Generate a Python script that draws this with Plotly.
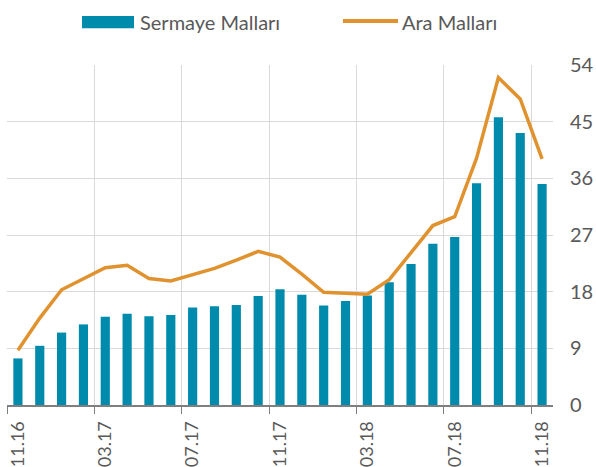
import plotly.graph_objects as go

months = ["11.16","12.16","01.17","02.17","03.17","04.17","05.17","06.17","07.17","08.17",
          "09.17","10.17","11.17","12.17","01.18","02.18","03.18","04.18","05.18","06.18",
          "07.18","08.18","09.18","10.18","11.18"]
sermaye = [7.4, 9.4, 11.5, 12.8, 14.0, 14.5, 14.1, 14.3, 15.5, 15.7, 15.9, 17.3, 18.4,
           17.5, 15.8, 16.5, 17.4, 19.5, 22.4, 25.6, 26.7, 35.2, 45.7, 43.2, 35.1]
ara = [8.7, 13.8, 18.3, 20.1, 21.8, 22.2, 20.1, 19.7, 20.7, 21.7, 23.0, 24.4, 23.5,
       20.8, 17.9, 17.7, 17.6, 19.9, 24.1, 28.5, 29.9, 39.2, 52.0, 48.6, 39.1]
label_months = ["11.16", "03.17", "07.17", "11.17", "03.18", "07.18", "11.18"]
y_ticks = [0, 9, 18, 27, 36, 45, 54]
series_names = ["Sermaye Malları", "Ara Malları"]

idx = list(range(len(months)))
label_pos = [months.index(m) for m in label_months]
boundary_pos = [p - 0.5 for p in label_pos]

BAR = "#008BAD"
LINE = "#E0922F"
GREY = "#595959"
FONT = "Lato"

fig = go.Figure()
fig.add_trace(go.Bar(x=idx, y=sermaye, name=series_names[0], marker_color=BAR,
                     marker_line_width=0, width=0.42, showlegend=False))
fig.add_trace(go.Scatter(x=idx, y=ara, name=series_names[1], mode="lines",
                         line=dict(color=LINE, width=3.5), showlegend=False))
fig.add_trace(go.Scatter(x=[label_pos[0]], y=[0], xaxis="x2", mode="markers",
                         marker=dict(opacity=0), showlegend=False, hoverinfo="skip"))

# manual legend (wide swatches as in the reference)
fig.add_shape(type="rect", xref="paper", yref="paper", x0=0.1374, x1=0.2326,
              y0=1.1079, y1=1.1441, fillcolor=BAR, line_width=0)
fig.add_annotation(xref="paper", yref="paper", x=0.2400, y=1.1265, text=series_names[0],
                   showarrow=False, xanchor="left", yanchor="middle",
                   font=dict(family=FONT, size=20, color=GREY))
fig.add_shape(type="line", xref="paper", yref="paper", x0=0.6154, x1=0.7161,
              y0=1.1294, y1=1.1294, line=dict(color=LINE, width=4))
fig.add_annotation(xref="paper", yref="paper", x=0.7200, y=1.1265, text=series_names[1],
                   showarrow=False, xanchor="left", yanchor="middle",
                   font=dict(family=FONT, size=20, color=GREY))

rng = [-0.5, len(months) - 0.5]
fig.update_layout(
    width=596, height=467,
    margin=dict(l=7, r=43, t=65, b=62, autoexpand=False),
    paper_bgcolor="white", plot_bgcolor="white",
    font=dict(family=FONT, color=GREY, size=18),
    showlegend=False,
    xaxis=dict(range=rng, tickmode="array", tickvals=boundary_pos,
               ticktext=[""] * len(boundary_pos), showgrid=True, gridcolor="#D9D9D9",
               gridwidth=1.3, ticks="outside", ticklen=7, tickcolor="#7F7F7F",
               showline=True, linecolor="#7F7F7F", linewidth=1.5, zeroline=False,
               automargin=False),
    xaxis2=dict(range=rng, overlaying="x", anchor="y", side="bottom",
                tickmode="array", tickvals=label_pos, ticktext=label_months,
                tickangle=-90, showgrid=False, showline=False, zeroline=False,
                ticks="outside", ticklen=8, tickcolor="rgba(0,0,0,0)",
                tickfont=dict(size=18, color=GREY), automargin=False),
    yaxis=dict(range=[0, 54], side="right", tickmode="array", tickvals=y_ticks,
               showgrid=True, gridcolor="#D9D9D9", gridwidth=1.3, zeroline=False,
               showline=False, ticks="", ticklabelstandoff=16,
               tickfont=dict(size=20, color=GREY), automargin=False),
)
fig.write_html("out.html", config={"displayModeBar": False},
               post_script="document.body.style.margin='0';document.body.style.padding='0';")
